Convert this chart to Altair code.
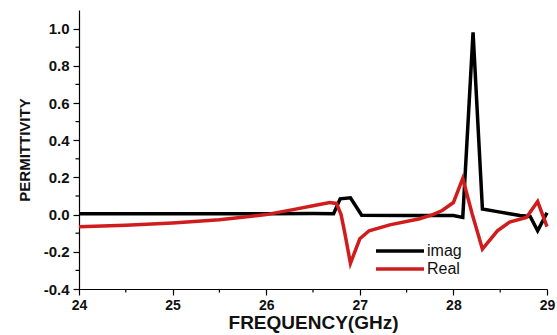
import altair as alt
import pandas as pd

# ---- data ----
imag_f = [24.0, 24.5, 25.0, 25.5, 26.0, 26.5, 26.72, 26.79, 26.9, 27.02, 27.5, 28.0,
          28.1, 28.21, 28.31, 28.47, 28.6, 28.71, 28.82, 28.9, 29.0]
imag_v = [0.005, 0.005, 0.005, 0.005, 0.005, 0.006, 0.005, 0.085, 0.09, -0.003, -0.005, -0.005,
          -0.015, 0.98, 0.03, 0.016, 0.005, -0.005, -0.01, -0.087, 0.01]

real_f = [24.0, 24.5, 25.0, 25.5, 26.0, 26.3, 26.5, 26.68, 26.75, 26.8, 26.84, 26.9, 27.0,
          27.1, 27.32, 27.64, 27.78, 27.88, 28.0, 28.1, 28.2, 28.31, 28.47, 28.6, 28.78,
          28.9, 29.0]
real_v = [-0.065, -0.057, -0.045, -0.028, 0.0, 0.028, 0.048, 0.065, 0.06, 0.0, -0.1, -0.262, -0.13,
          -0.087, -0.055, -0.022, 0.0, 0.022, 0.065, 0.195, 0.005, -0.185, -0.087, -0.04, -0.015,
          0.07, -0.065]

series_names = ["imag", "Real"]
series_colors = ["#000000", "#d01c1c"]

x_ticks = [24, 25, 26, 27, 28, 29]
x_minor = [24.5, 25.5, 26.5, 27.5, 28.5]
y_ticks = [-0.4, -0.2, 0.0, 0.2, 0.4, 0.6, 0.8, 1.0]
y_minor = [-0.3, -0.1, 0.1, 0.3, 0.5, 0.7, 0.9]

W, H = 468, 279

df_imag = pd.DataFrame({"f": imag_f, "v": imag_v, "s": series_names[0]})
df_real = pd.DataFrame({"f": real_f, "v": real_v, "s": series_names[1]})

xs = alt.Scale(domain=[24, 29], nice=False, zero=False)
ys = alt.Scale(domain=[-0.4, 1.1], nice=False, zero=False)

x_axis = alt.Axis(values=x_ticks, format="d", title="FREQUENCY(GHz)",
                  labelFontSize=14, titleFontSize=19, labelPadding=3, titlePadding=1,
                  labelOverlap=False, labelFlush=False)
y_axis = alt.Axis(values=y_ticks, title="PERMITTIVITY",
                  labelExpr="replace(format(datum.value, '.1f'), '\u2212', '-')",
                  labelFontSize=15, titleFontSize=15, labelPadding=4, titlePadding=11,
                  labelOverlap=False, labelFlush=False)

X = alt.X("f:Q", scale=xs, axis=x_axis)
Y = alt.Y("v:Q", scale=ys, axis=y_axis)

black_line = alt.Chart(df_imag).mark_line(strokeWidth=3.5, color=series_colors[0]).encode(x=X, y=Y)
red_line = alt.Chart(df_real).mark_line(strokeWidth=3.5, color=series_colors[1]).encode(x=X, y=Y)

ymin_df = pd.DataFrame({"v": y_minor})
xmin_df = pd.DataFrame({"f": x_minor})
y_minor_ticks = alt.Chart(ymin_df).mark_rule(color="black", strokeWidth=1.2).encode(
    y=Y, x=alt.value(-3.5), x2=alt.value(0),
)
x_minor_ticks = alt.Chart(xmin_df).mark_rule(color="black", strokeWidth=1.2).encode(
    x=X, y=alt.value(H), y2=alt.value(H + 3.5),
)

leg_df = pd.DataFrame({"s": series_names})
leg_layers = []
for i, (name, col) in enumerate(zip(series_names, series_colors)):
    yy = 241 + 18 * i
    d = leg_df[leg_df["s"] == name]
    leg_layers.append(
        alt.Chart(d).mark_rule(color=col, strokeWidth=3.5).encode(
            x=alt.value(297), x2=alt.value(345), y=alt.value(yy))
    )
    leg_layers.append(
        alt.Chart(d).mark_text(align="left", baseline="middle", fontSize=16,
                               font="Liberation Sans", color="#111111").encode(
            x=alt.value(348), y=alt.value(yy), text="s:N")
    )

chart = alt.layer(black_line, red_line, y_minor_ticks, x_minor_ticks, *leg_layers).properties(
    width=W, height=H,
    autosize=alt.AutoSizeParams(type="none"),
    padding={"left": 79, "top": 10, "right": 10, "bottom": 46},
).configure_view(stroke=None).configure_axis(
    grid=False,
    domainColor="#000000", domainWidth=1.2,
    tickColor="#000000", tickSize=6, tickWidth=1.2,
    labelFont="Liberation Sans", labelFontWeight="bold", labelColor="#111111",
    titleFont="Liberation Sans", titleFontWeight="bold", titleColor="#111111",
)

chart.save("out.html", embed_options={"renderer": "svg", "actions": False})
